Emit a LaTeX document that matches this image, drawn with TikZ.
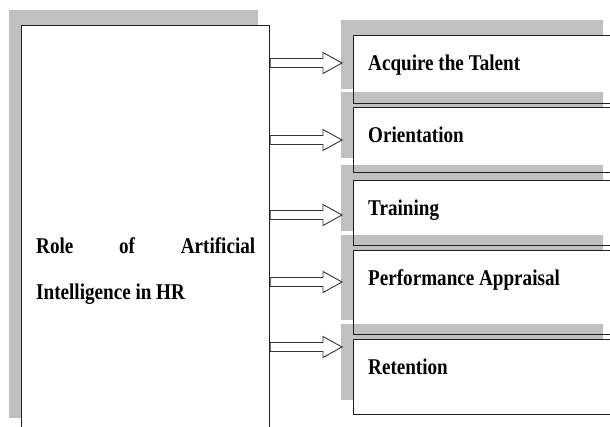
\documentclass[tikz,border=0pt]{standalone}
\usepackage{fontspec}
\setmainfont{Liberation Serif}[FakeStretch=0.85]
\usetikzlibrary{calc}
\pgfdeclarelayer{bg}
\pgfsetlayers{bg,main}
\definecolor{shadowgray}{HTML}{C0C0C0}
\definecolor{edge}{HTML}{1E1E1E}
\definecolor{arrowedge}{HTML}{333333}
\tikzset{
  box/.style={draw=edge, line width=1.2pt, rectangle, inner sep=0pt, anchor=north west},
  lbl/.style={anchor=base west, inner sep=0pt, font=\fontsize{22.5}{22.5}\selectfont\bfseries, text=black},
  hollow/.style={draw=arrowedge, fill=white, line width=0.9pt, line join=miter},
}
\newcommand{\boxshadow}[1]{%
  \begin{pgfonlayer}{bg}
    \fill[shadowgray] ($(#1.north west)+(-12,-15)$) rectangle ($(#1.south east)+(-12,-15)$);
    \fill[white] (#1.north west) rectangle (#1.south east);
  \end{pgfonlayer}}
\newcommand{\hollowarrow}[3]{%
  \draw[hollow] ($(#1.east|-#3)+(0,-4.5)$) -- ($(#2.west|-#3)+(-30,-4.5)$) -- ($(#2.west|-#3)+(-30,-10.5)$) -- ($(#2.west|-#3)+(-11,0)$) -- ($(#2.west|-#3)+(-30,10.5)$) -- ($(#2.west|-#3)+(-30,4.5)$) -- ($(#1.east|-#3)+(0,4.5)$) -- cycle;}
\begin{document}
\begin{tikzpicture}[x=1pt,y=-1pt]
\useasboundingbox (0,0) rectangle (610,426);
\clip (0,0) rectangle (610,426);
% main box
\node[box, minimum width=248pt, minimum height=407pt] (main) at (21,25) {};
\boxshadow{main}
\node[lbl] (mt1) at (36,253) {\makebox[219pt][l]{Role\hfill of\hfill Artificial}};
\node[lbl] (mt2) at (36,299) {Intelligence in HR};
% right boxes
\node[box, minimum width=261pt, minimum height=68pt] (b1) at (353,35) {};
\boxshadow{b1}
\node[box, minimum width=261pt, minimum height=65pt] (b2) at (353,107) {};
\boxshadow{b2}
\node[box, minimum width=261pt, minimum height=65pt] (b3) at (353,180) {};
\boxshadow{b3}
\node[box, minimum width=261pt, minimum height=84pt] (b4) at (353,250) {};
\boxshadow{b4}
\node[box, minimum width=261pt, minimum height=75pt] (b5) at (353,339) {};
\boxshadow{b5}
\node[lbl] (t1) at (368,70) {Acquire the Talent};
\node[lbl] (t2) at (368,142) {Orientation};
\node[lbl] (t3) at (368,215) {Training};
\node[lbl] (t4) at (368,285) {Performance Appraisal};
\node[lbl] (t5) at (368,374) {Retention};
% arrows
\coordinate (a1) at (300,63);
\coordinate (a2) at (300,140);
\coordinate (a3) at (300,215);
\coordinate (a4) at (300,282);
\coordinate (a5) at (300,347);
\hollowarrow{main}{b1}{a1}
\hollowarrow{main}{b2}{a2}
\hollowarrow{main}{b3}{a3}
\hollowarrow{main}{b4}{a4}
\hollowarrow{main}{b5}{a5}
\end{tikzpicture}
\end{document}
